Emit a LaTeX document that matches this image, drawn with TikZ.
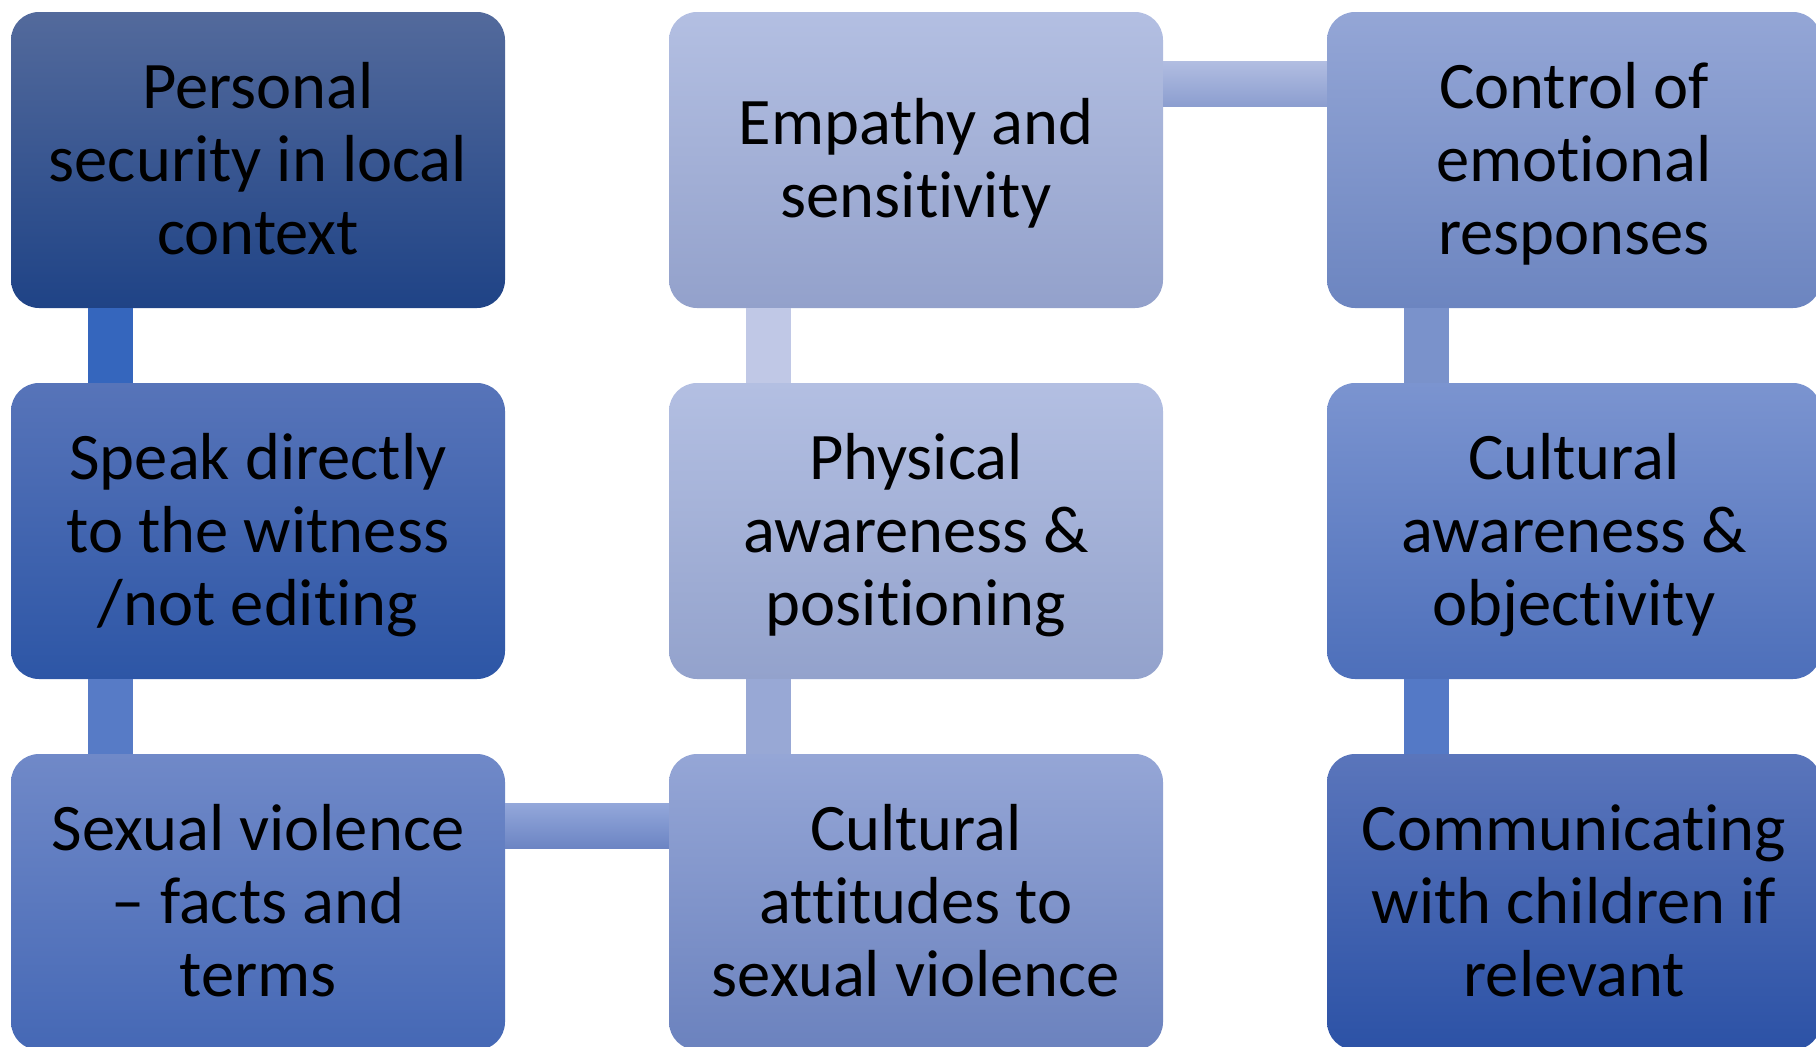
\documentclass[tikz,border=0pt]{standalone}
\usepackage{fontspec}
\setmainfont{Carlito}[Ligatures=NoCommon]
\usetikzlibrary{calc}

% box fill gradients (top / bottom)
\definecolor{aTop}{HTML}{536A9C}\definecolor{aBot}{HTML}{1F4386}
\definecolor{bTop}{HTML}{5774B9}\definecolor{bBot}{HTML}{2D56A6}
\definecolor{cTop}{HTML}{7089C8}\definecolor{cBot}{HTML}{4568B5}
\definecolor{dTop}{HTML}{95A6D6}\definecolor{dBot}{HTML}{6B82BE}
\definecolor{eTop}{HTML}{B3BFE2}\definecolor{eBot}{HTML}{93A2CC}
\definecolor{fTop}{HTML}{B3BFE2}\definecolor{fBot}{HTML}{93A1CB}
\definecolor{gTop}{HTML}{94A6D6}\definecolor{gBot}{HTML}{6C85C0}
\definecolor{hTop}{HTML}{7B94D0}\definecolor{hBot}{HTML}{4D6FBA}
\definecolor{iTop}{HTML}{5A75BB}\definecolor{iBot}{HTML}{2C52A6}
% link colours
\definecolor{lnA}{HTML}{3566BD}
\definecolor{lnB}{HTML}{577BC6}
\definecolor{lnCTop}{HTML}{93A7DA}\definecolor{lnCBot}{HTML}{6B84C3}
\definecolor{lnD}{HTML}{98A8D5}
\definecolor{lnE}{HTML}{C0C8E6}
\definecolor{lnFTop}{HTML}{B1BDE1}\definecolor{lnFBot}{HTML}{8B9DCF}
\definecolor{lnG}{HTML}{7A92CB}
\definecolor{lnH}{HTML}{5479C6}

% one full line slot: 57.5pt above the baseline, 15.5pt below
\newcommand\slot{\rule[-15.5pt]{0pt}{73pt}}

\begin{document}
\begin{tikzpicture}[x=1pt,y=-1pt,
  card/.style 2 args={rectangle, rounded corners=28pt, inner sep=0pt,
    minimum width=494pt, minimum height=296pt, align=flush center,
    text width=480pt,
    font=\fontsize{66.5}{73}\selectfont, text=black,
    top color=#1, bottom color=#2, shading angle=0},
]
\useasboundingbox (0,0) rectangle (1816,1047);
\clip (0,0) rectangle (1816,1047);

% the nine cards, in snake order
\node[card={aTop}{aBot}] (p1) at (258,160) {\slot Personal\\\slot security in local\\\slot context};
\node[card={bTop}{bBot}] (p2) at (258,531) {\slot Speak directly\\\slot to the witness\\\slot /not editing};
\node[card={cTop}{cBot}] (p3) at (258,902) {\slot Sexual violence\\\slot – facts and\\\slot terms};
\node[card={dTop}{dBot}] (p4) at (916,902) {\slot Cultural\\\slot attitudes to\\\slot sexual violence};
\node[card={eTop}{eBot}] (p5) at (916,531) {\slot Physical\\\slot awareness \&\\\slot positioning};
\node[card={fTop}{fBot}] (p6) at (916,160) {\slot Empathy and\\\slot sensitivity};
\node[card={gTop}{gBot}] (p7) at (1574,160) {\slot Control of\\\slot emotional\\\slot responses};
\node[card={hTop}{hBot}] (p8) at (1574,531) {\slot Cultural\\\slot awareness \&\\\slot objectivity};
\node[card={iTop}{iBot}] (p9) at (1574,902) {\slot Communicating\\\slot with children if\\\slot relevant};

% links between consecutive cards
\fill[lnA] ($(p1.south west)+(77,0)$) rectangle ($(p2.north west)+(122,0)$);
\fill[lnB] ($(p2.south west)+(77,0)$) rectangle ($(p3.north west)+(122,0)$);
\shade[top color=lnCTop, bottom color=lnCBot] ($(p3.north east)+(0,50)$) rectangle ($(p4.north west)+(0,95)$);
\fill[lnD] ($(p5.south west)+(77,0)$) rectangle ($(p4.north west)+(122,0)$);
\fill[lnE] ($(p6.south west)+(77,0)$) rectangle ($(p5.north west)+(122,0)$);
\shade[top color=lnFTop, bottom color=lnFBot] ($(p6.north east)+(0,50)$) rectangle ($(p7.north west)+(0,95)$);
\fill[lnG] ($(p7.south west)+(77,0)$) rectangle ($(p8.north west)+(122,0)$);
\fill[lnH] ($(p8.south west)+(77,0)$) rectangle ($(p9.north west)+(122,0)$);
\end{tikzpicture}
\end{document}
